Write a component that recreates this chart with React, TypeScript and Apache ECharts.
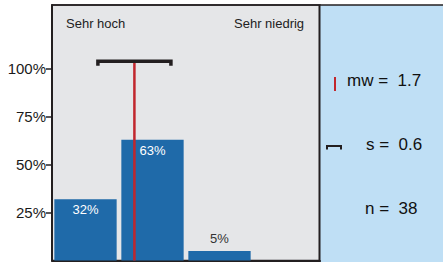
import React, { useEffect, useRef } from "react";
import * as echarts from "echarts";

const categories = ["Sehr hoch", "Hoch", "Niedrig", "Sehr niedrig"];
const percentValues = [32, 63, 5, 0];
const yTicks = [25, 50, 75, 100];
const meanValue = 1.73;
const sdValue = 0.545;
const statLabels = ["mw =  1.7", "s =  0.6", "n =  38"];

const FONT = "'Liberation Sans', Arial, Helvetica, sans-serif";
const BAR = "#1f6aa9";
const RED = "#c1272d";
const DARK = "#231f20";

export default function App() {
  const ref = useRef<HTMLDivElement>(null);
  useEffect(() => {
    if (!ref.current) return;
    const chart = echarts.init(ref.current, undefined, { renderer: "svg" });
    const barData = percentValues.map((v, i) => {
      const inside = v >= 20;
      return {
        value: v,
        label: {
          show: v > 0,
          position: inside ? "insideTop" : "top",
          distance: inside ? 4 : 6,
          color: inside ? "#ffffff" : "#333333",
          fontSize: 13,
          fontFamily: FONT,
          formatter: "{c}%",
        },
      };
    });
    const top = 104;
    const foot = 101.6;
    chart.setOption({
      animation: false,
      grid: {
        left: 52,
        right: 123,
        top: 5,
        bottom: 1.5,
        show: true,
        backgroundColor: "#e5e6e8",
        borderColor: DARK,
        borderWidth: 1.5,
      },
      xAxis: [
        {
          type: "category",
          data: categories,
          axisLabel: { show: false },
          axisTick: { show: false },
          axisLine: { show: true, lineStyle: { color: DARK, width: 2 } },
        },
        {
          type: "value",
          min: 0.5,
          max: 4.5,
          show: false,
        },
      ],
      yAxis: {
        type: "value",
        min: 0,
        max: 133.33,
        interval: 25,
        splitLine: { show: false },
        axisLine: { show: true, lineStyle: { color: DARK, width: 2 } },
        axisTick: {
          show: true,
          length: 6,
          customValues: yTicks,
          lineStyle: { color: DARK, width: 1.5 },
        },
        axisLabel: {
          customValues: yTicks,
          formatter: "{value}%",
          color: "#1a1a1a",
          fontSize: 15,
          fontFamily: FONT,
          margin: 6,
        },
      },
      series: [
        {
          type: "bar",
          data: barData,
          barCategoryGap: "7%",
          itemStyle: { color: BAR },
          silent: true,
        },
        {
          type: "line",
          xAxisIndex: 1,
          data: [
            [meanValue, 0],
            [meanValue, top],
          ],
          symbol: "none",
          lineStyle: { color: RED, width: 2.5 },
          silent: true,
        },
        {
          type: "line",
          xAxisIndex: 1,
          data: [
            [meanValue - sdValue, foot],
            [meanValue - sdValue, top],
            [meanValue + sdValue, top],
            [meanValue + sdValue, foot],
          ],
          symbol: "none",
          lineStyle: { color: DARK, width: 3.5, join: "miter", cap: "butt" },
          silent: true,
        },
      ],
      graphic: [
        {
          type: "rect",
          shape: { x: 320, y: 5, width: 123, height: 257 },
          style: { fill: "#bfdff5" },
          silent: true,
        },
        {
          type: "line",
          shape: { x1: 52, y1: 5, x2: 443, y2: 5 },
          style: { stroke: DARK, lineWidth: 1.5 },
        },
        {
          type: "line",
          shape: { x1: 319.5, y1: 5, x2: 319.5, y2: 262 },
          style: { stroke: DARK, lineWidth: 2 },
        },
        {
          type: "text",
          left: 66,
          top: 17,
          style: { text: categories[0], fontSize: 13, fontFamily: FONT, fill: "#222" },
        },
        {
          type: "text",
          left: 234,
          top: 17,
          style: { text: categories[3], fontSize: 13, fontFamily: FONT, fill: "#222" },
        },
        {
          type: "line",
          shape: { x1: 335, y1: 77, x2: 335, y2: 91 },
          style: { stroke: RED, lineWidth: 2 },
        },
        {
          type: "polyline",
          shape: {
            points: [
              [327, 149.5],
              [327, 146],
              [341, 146],
              [341, 149.5],
            ],
          },
          style: { stroke: DARK, lineWidth: 2, fill: null },
        },
        {
          type: "text",
          left: 347,
          top: 72,
          style: { text: statLabels[0], fontSize: 17, fontFamily: FONT, fill: "#111" },
        },
        {
          type: "text",
          left: 366,
          top: 136,
          style: { text: statLabels[1], fontSize: 17, fontFamily: FONT, fill: "#111" },
        },
        {
          type: "text",
          left: 365,
          top: 200,
          style: { text: statLabels[2], fontSize: 17, fontFamily: FONT, fill: "#111" },
        },
      ],
    });
    return () => chart.dispose();
  }, []);
  return (
    <div
      ref={ref}
      style={{ position: "absolute", left: 0, top: 0, width: 443, height: 262 }}
    />
  );
}
